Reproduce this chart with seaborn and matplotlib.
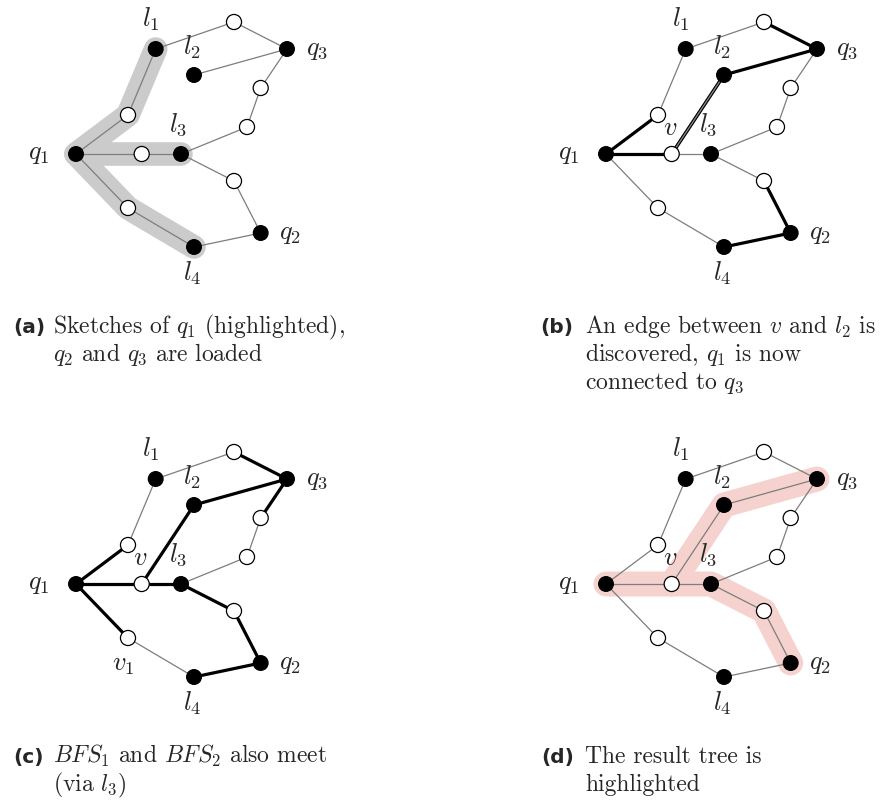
import matplotlib
matplotlib.use("Agg")
import matplotlib.pyplot as plt
import seaborn as sns
import pandas as pd

sns.set_theme(style="white")
plt.rcParams["mathtext.fontset"] = "cm"
plt.rcParams["font.family"] = ["cmr10", "DejaVu Serif"]
plt.rcParams["axes.unicode_minus"] = False

# ---- graph data (layout units) ----
node_names = ["q1", "q2", "q3", "l1", "l2", "l3", "l4",
              "w1", "v", "v1", "t", "u", "m", "r"]
node_x = [76, 260.7, 287, 155.7, 194, 181, 194,
          128, 141.7, 128, 234, 260.7, 247, 234]
node_y = [154, 233, 49, 49, 75, 154, 247,
          115, 154, 208, 22, 88, 127, 181]
node_kind = ["key", "key", "key", "key", "key", "key", "key",
             "inner", "inner", "inner", "inner", "inner", "inner", "inner"]

base_edges = [("q1", "w1"), ("w1", "l1"), ("l1", "t"), ("t", "q3"),
              ("q3", "l2"), ("q3", "u"), ("u", "m"), ("m", "l3"),
              ("q1", "v"), ("v", "l3"), ("l3", "r"), ("r", "q2"),
              ("q2", "l4"), ("q1", "v1"), ("v1", "l4")]
found_edge = ("v", "l2")

bold_b = [("q1", "w1"), ("q1", "v"), ("t", "q3"), ("l2", "q3"),
          ("r", "q2"), ("q2", "l4")]
bold_c = [("q1", "w1"), ("q1", "v"), ("v", "l3"), ("v", "l2"),
          ("l2", "q3"), ("t", "q3"), ("q3", "u"), ("l3", "r"),
          ("r", "q2"), ("q2", "l4"), ("q1", "v1")]

paths_a = [["l1", "w1", "q1", "v", "l3"], ["q1", "v1", "l4"]]
paths_d = [["q1", "v", "l3", "r", "q2"], ["v", "l2", "q3"]]

# label text, left x, baseline y
labels_common = [("$l_1$", 142, 27), ("$l_2$", 183, 55), ("$q_3$", 306, 55),
                 ("$l_3$", 169, 132), ("$q_1$", 28, 159), ("$q_2$", 279, 239),
                 ("$l_4$", 183, 281)]
label_v = ("$v$", 133, 135)
label_v1 = ("$v_1$", 112, 241)

captions = {
    "a": ["Sketches of $q_1$ (highlighted),", "$q_2$ and $q_3$ are loaded"],
    "b": ["An edge between $v$ and $l_2$ is", "discovered, $q_1$ is now",
          "connected to $q_3$"],
    "c": ["$BFS_1$ and $BFS_2$ also meet", "(via $l_3$)"],
    "d": ["The result tree is", "highlighted"],
}

nodes = pd.DataFrame({"name": node_names, "x": node_x, "y": node_y,
                      "kind": node_kind})
pos = {n: (x, y) for n, x, y in zip(node_names, node_x, node_y)}

W, H = 886, 800
PW, PH = 356, 300
THIN = "#7d7d7d"

fig = plt.figure(figsize=(W / 100, H / 100), dpi=100)


def panel(x0, y0):
    ax = fig.add_axes([x0 / W, 1 - (y0 + PH) / H, PW / W, PH / H])
    ax.set_xlim(0, PW)
    ax.set_ylim(PH, 0)
    ax.set_axis_off()
    return ax


def edge(ax, a, b, style):
    xs = [pos[a][0], pos[b][0]]
    ys = [pos[a][1], pos[b][1]]
    if style == "thin":
        ax.plot(xs, ys, color=THIN, lw=0.9, zorder=2, solid_capstyle="butt")
    elif style == "bold":
        ax.plot(xs, ys, color="black", lw=2.3, zorder=3, solid_capstyle="butt")
    elif style == "double":
        ax.plot(xs, ys, color="black", lw=2.6, zorder=3, solid_capstyle="butt")
        ax.plot(xs, ys, color="#8a8a8a", lw=0.9, zorder=3.1,
                solid_capstyle="butt")


def highlight(ax, paths, color, width):
    for p in paths:
        ax.plot([pos[n][0] for n in p], [pos[n][1] for n in p], color=color,
                lw=width, solid_capstyle="round", solid_joinstyle="round",
                zorder=1)


def draw_nodes(ax):
    sns.scatterplot(data=nodes, x="x", y="y", hue="kind", size="kind",
                    palette={"key": "black", "inner": "white"},
                    sizes={"key": 112, "inner": 118},
                    edgecolor="black", linewidth=0.9, legend=False,
                    zorder=5, ax=ax)
    ax.set_xlabel("")
    ax.set_ylabel("")
    ax.set_xlim(0, PW)
    ax.set_ylim(PH, 0)


def draw_labels(ax, extra):
    for txt, x, y in labels_common + extra:
        ax.text(x, y, txt, fontsize=19, ha="left", va="baseline", zorder=6)


def same(e, f):
    return set(e) == set(f)


# (a) sketches of q1 highlighted
ax = panel(0, 0)
highlight(ax, paths_a, "#cbcbcb", 17)
for e in base_edges:
    edge(ax, *e, "thin")
draw_nodes(ax)
draw_labels(ax, [])

# (b) edge between v and l2 discovered
ax = panel(530, 0)
for e in base_edges:
    edge(ax, *e, "bold" if any(same(e, f) for f in bold_b) else "thin")
edge(ax, *found_edge, "double")
draw_nodes(ax)
draw_labels(ax, [label_v])

# (c) both searches meet via l3
ax = panel(0, 430)
for e in base_edges + [found_edge]:
    edge(ax, *e, "bold" if any(same(e, f) for f in bold_c) else "thin")
draw_nodes(ax)
draw_labels(ax, [label_v, label_v1])

# (d) result tree highlighted
ax = panel(530, 430)
highlight(ax, paths_d, "#f6d2ce", 18)
for e in base_edges + [found_edge]:
    edge(ax, *e, "thin")
draw_nodes(ax)
draw_labels(ax, [label_v])

# captions
tax = fig.add_axes([0, 0, 1, 1], zorder=-1)
tax.set_xlim(0, W)
tax.set_ylim(H, 0)
tax.set_axis_off()

cap_pos = {"a": (13, 53, 333), "b": (540, 585, 333),
           "c": (13, 53, 763), "d": (541, 585, 763)}
for key, (xl, xt, yb) in cap_pos.items():
    tax.text(xl, yb, f"({key})", fontsize=14.5, fontweight="bold",
             family="DejaVu Sans", ha="left", va="baseline")
    for i, line in enumerate(captions[key]):
        tax.text(xt, yb + 28 * i, line, fontsize=17, ha="left",
                 va="baseline")

fig.savefig("out.png", dpi=100)
